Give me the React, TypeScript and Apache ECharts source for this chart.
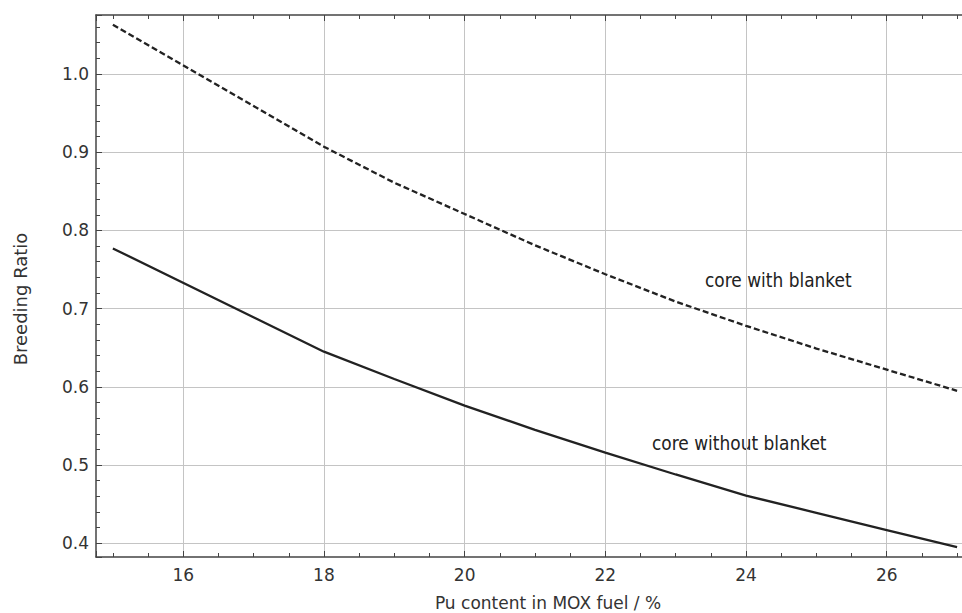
import React, { useEffect, useRef } from "react";
import * as echarts from "echarts";

const puContent = [15, 18, 19, 20, 21, 22, 23, 24, 25, 26, 27];
const withBlanket = [1.063, 0.907, 0.861, 0.821, 0.781, 0.744, 0.709, 0.678, 0.649, 0.622, 0.595];
const withoutBlanket = [0.777, 0.645, 0.610, 0.576, 0.545, 0.516, 0.488, 0.461, 0.439, 0.417, 0.395];
const seriesNames = ["core with blanket", "core without blanket"];
const xTitle = "Pu content in MOX fuel / %";
const yTitle = "Breeding Ratio";

const FONT = "DejaVu Sans";

export default function App() {
  const ref = useRef<HTMLDivElement>(null);
  useEffect(() => {
    if (!ref.current) return;
    const chart = echarts.init(ref.current, undefined, { renderer: "svg" });
    const axisColor = "#444";
    const gridColor = "#c4c4c4";
    const xCommon = {
      type: "value" as const,
      min: 14.76,
      max: 27.07,
      axisLine: { show: true, lineStyle: { color: axisColor, width: 1.5 } },
      axisTick: { show: true, inside: true, length: 6, lineStyle: { color: axisColor } },
      minorTick: { show: true, splitNumber: 4, length: 4, lineStyle: { color: axisColor } },
    };
    chart.setOption({
      animation: false,
      backgroundColor: "#fff",
      grid: { left: 96, top: 15, right: 0, bottom: 56, containLabel: false },
      xAxis: [
        {
          ...xCommon,
          position: "bottom",
          axisLabel: {
            show: true,
            showMinLabel: false,
            showMaxLabel: false,
            color: "#333",
            fontFamily: FONT,
            fontSize: 17,
            margin: 9,
          },
          splitLine: {
            show: true,
            showMinLine: false,
            showMaxLine: false,
            lineStyle: { color: gridColor, width: 1 },
          },
        },
        {
          ...xCommon,
          position: "top",
          axisLabel: { show: false },
          splitLine: { show: false },
        },
      ],
      yAxis: {
        type: "value",
        min: 0.3825,
        max: 1.0754,
        axisLine: { show: true, lineStyle: { color: axisColor, width: 1.5 } },
        axisTick: { show: true, inside: true, length: 6, lineStyle: { color: axisColor } },
        minorTick: { show: true, splitNumber: 5, length: 4, lineStyle: { color: axisColor } },
        axisLabel: {
          show: true,
          showMinLabel: false,
          showMaxLabel: false,
          color: "#333",
          fontFamily: FONT,
          fontSize: 17,
          margin: 7,
          formatter: (v: number) => v.toFixed(1),
        },
        splitLine: {
          show: true,
          showMinLine: false,
          showMaxLine: false,
          lineStyle: { color: gridColor, width: 1 },
        },
      },
      series: [
        {
          name: seriesNames[0],
          type: "line",
          xAxisIndex: 0,
          data: puContent.map((x, i) => [x, withBlanket[i]]),
          showSymbol: false,
          symbol: "none",
          lineStyle: { color: "#222", width: 2.3, type: [6, 3] },
        },
        {
          name: seriesNames[1],
          type: "line",
          xAxisIndex: 0,
          data: puContent.map((x, i) => [x, withoutBlanket[i]]),
          showSymbol: false,
          symbol: "none",
          lineStyle: { color: "#222", width: 2.3 },
        },
      ],
      graphic: [
        {
          type: "text",
          x: 705,
          y: 280,
          scaleY: 1.1,
          style: {
            text: seriesNames[0],
            fontFamily: FONT,
            fontSize: 17,
            fill: "#222",
            align: "left",
            verticalAlign: "middle",
          },
        },
        {
          type: "text",
          x: 652,
          y: 443,
          scaleY: 1.1,
          style: {
            text: seriesNames[1],
            fontFamily: FONT,
            fontSize: 17,
            fill: "#222",
            align: "left",
            verticalAlign: "middle",
          },
        },
        {
          type: "text",
          x: 548,
          y: 603,
          style: {
            text: xTitle,
            fontFamily: FONT,
            fontSize: 17,
            fill: "#333",
            align: "center",
            verticalAlign: "middle",
          },
        },
        {
          type: "text",
          x: 20,
          y: 299,
          rotation: Math.PI / 2,
          style: {
            text: yTitle,
            fontFamily: FONT,
            fontSize: 18,
            fill: "#333",
            align: "center",
            verticalAlign: "middle",
          },
        },
      ],
    });
    return () => chart.dispose();
  }, []);
  return (
    <div
      ref={ref}
      style={{ position: "absolute", left: 0, top: 0, width: 962, height: 613 }}
    />
  );
}
